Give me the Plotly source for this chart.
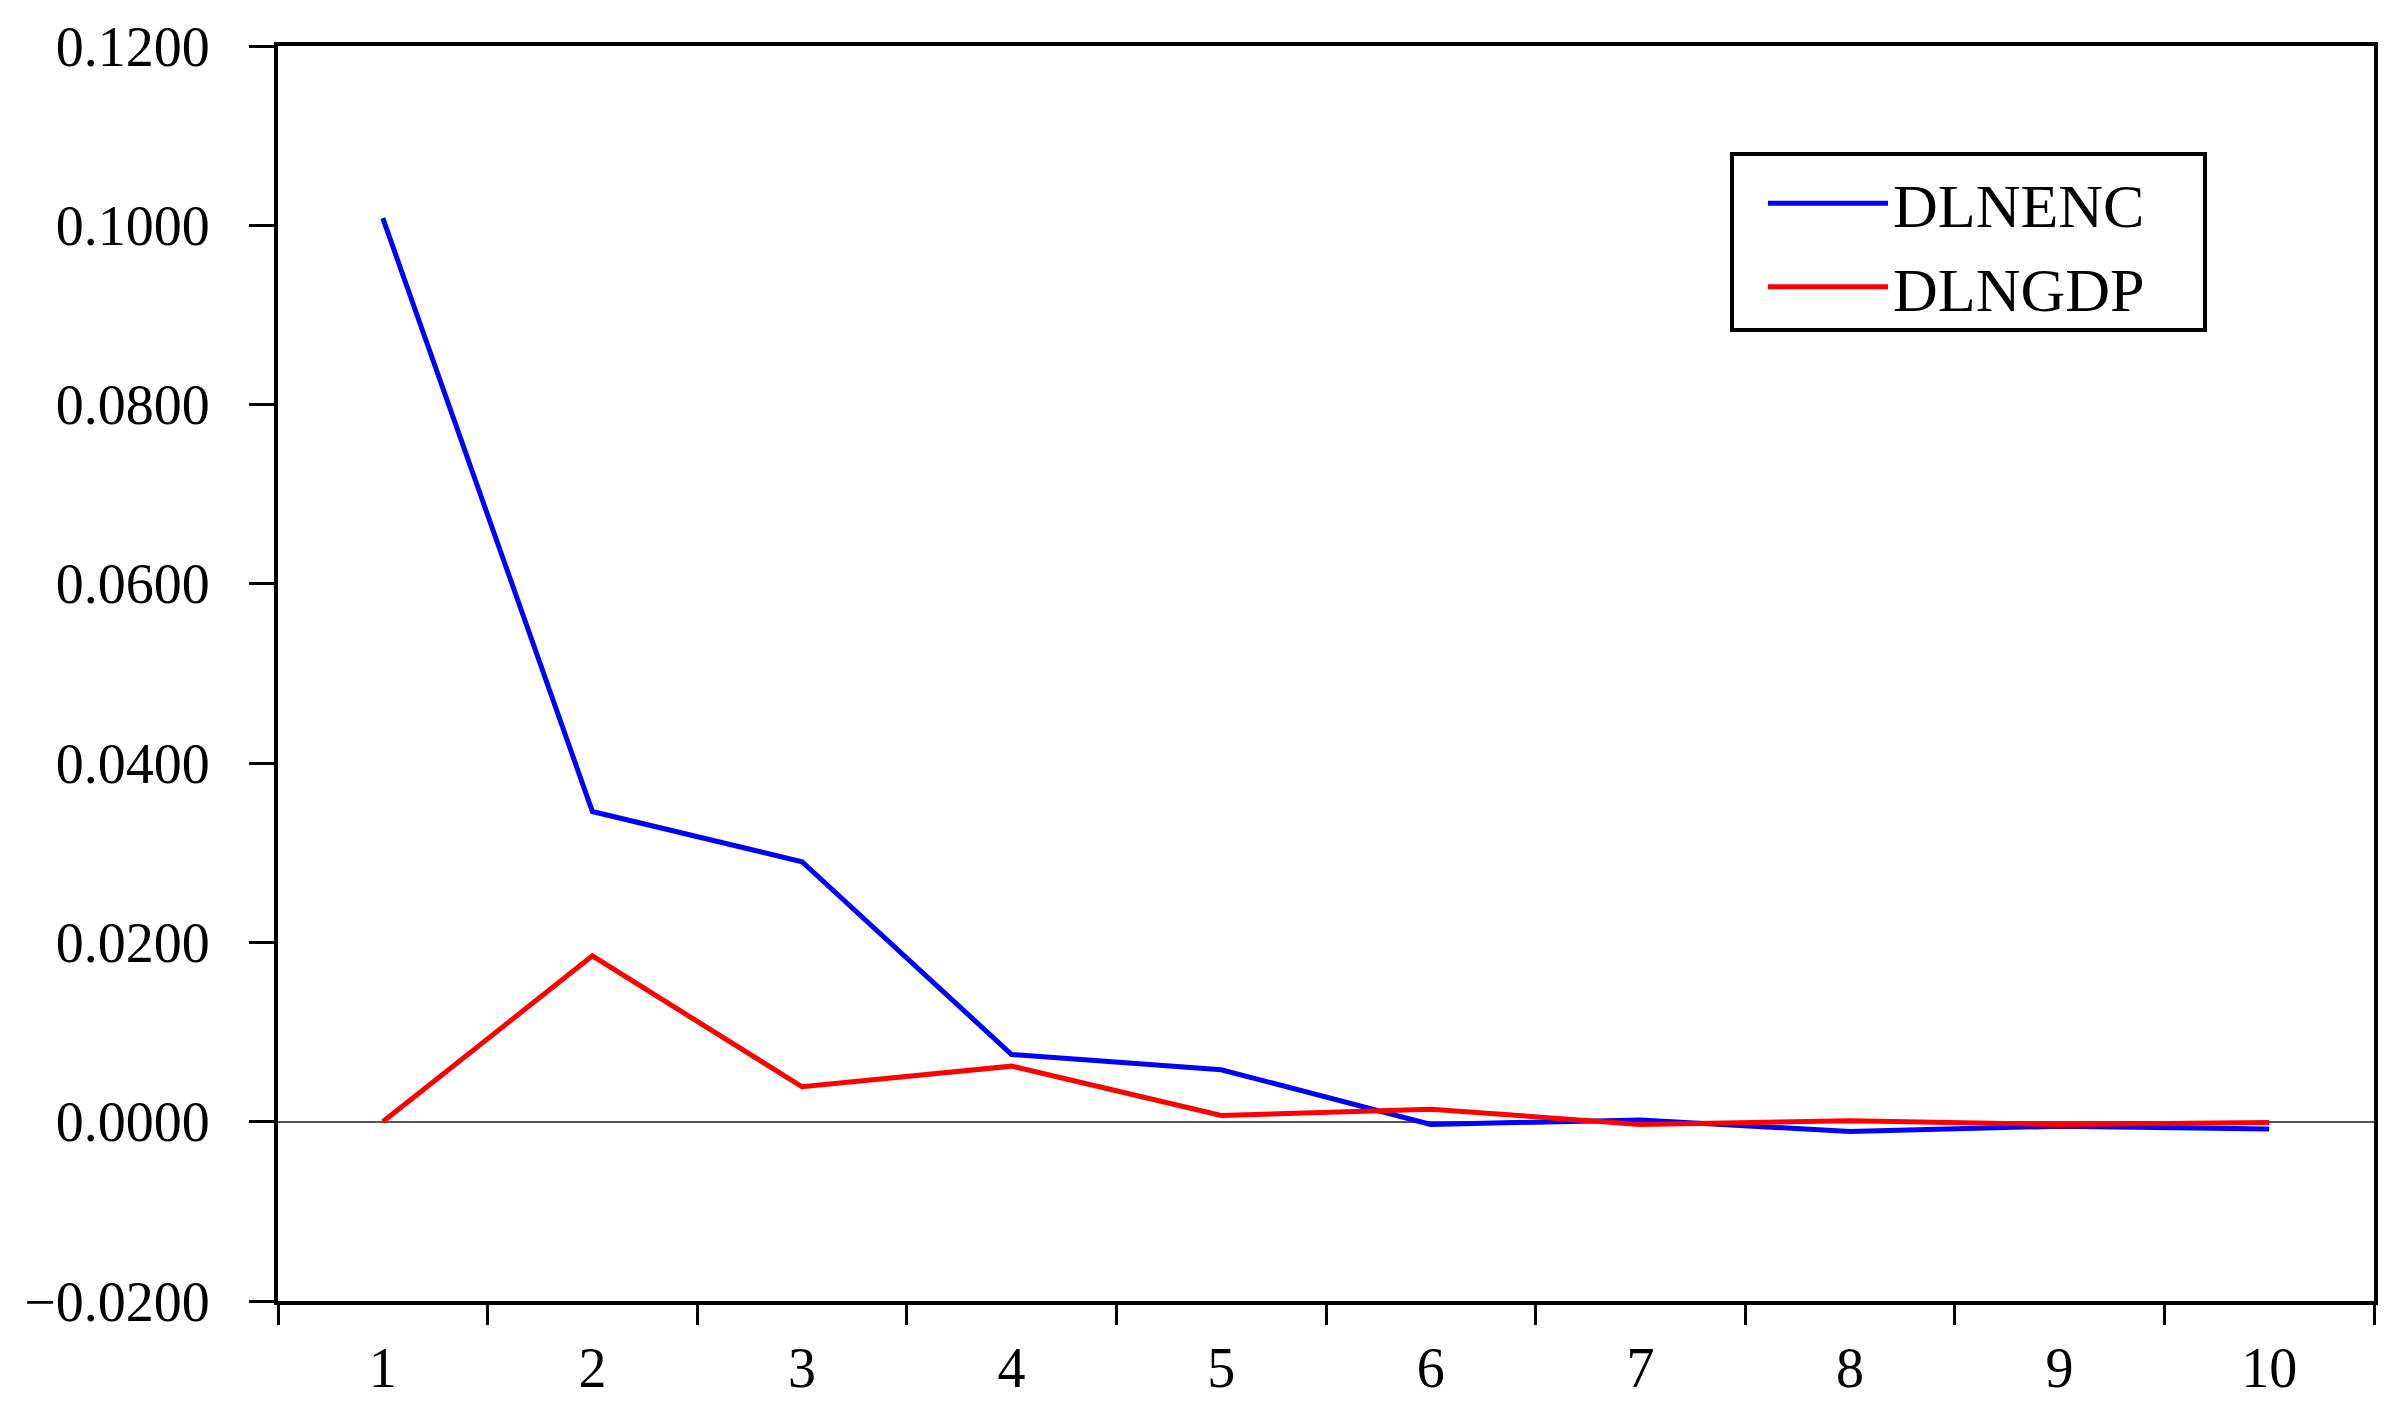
import plotly.graph_objects as go

periods = ["1", "2", "3", "4", "5", "6", "7", "8", "9", "10"]
dlnenc = [0.1008, 0.0346, 0.0290, 0.0075, 0.0058, -0.0003, 0.0002, -0.0011, -0.0005, -0.0008]
dlngdp = [0.0000, 0.0185, 0.0039, 0.0062, 0.0007, 0.0014, -0.0003, 0.0001, -0.0003, -0.0001]
y_ticks = [-0.02, 0.0, 0.02, 0.04, 0.06, 0.08, 0.10, 0.12]

FONT = "Liberation Serif"

# page body has an 8px margin, so plot-area offsets are compensated
L, T, R, B = 270, 38, 42, 129
PW = 2408 - L - R
PH = 1422 - T - B

fig = go.Figure()
fig.add_trace(go.Scatter(x=periods, y=dlnenc, mode="lines", name="DLNENC",
                         line=dict(color="#0000FF", width=5)))
fig.add_trace(go.Scatter(x=periods, y=dlngdp, mode="lines", name="DLNGDP",
                         line=dict(color="#FF0000", width=5)))

fig.update_layout(
    width=2408, height=1422,
    margin=dict(l=L, r=R, t=T, b=B),
    paper_bgcolor="white", plot_bgcolor="white",
    font=dict(family=FONT, size=56, color="black"),
    showlegend=True,
    legend=dict(
        x=0.7085, y=0.912, xanchor="left", yanchor="top",
        borderwidth=0, bgcolor="rgba(0,0,0,0)",
        font=dict(family=FONT, size=62, color="black"),
        itemwidth=120, tracegroupgap=0,
    ),
    shapes=[dict(type="rect", xref="paper", yref="paper",
                 x0=(1732 - 278) / PW, x1=(2205 - 278) / PW,
                 y0=(1301 - 330) / PH, y1=(1301 - 154) / PH,
                 line=dict(color="black", width=4), fillcolor="rgba(0,0,0,0)",
                 layer="above")],
)
fig.update_xaxes(
    type="category", tickson="boundaries", range=[-0.5, 9.5], automargin=False,
    showline=True, mirror=True, linecolor="black", linewidth=4,
    ticks="outside", ticklen=20, tickwidth=3, tickcolor="black",
    showgrid=False, zeroline=False,
    tickfont=dict(family=FONT, size=56, color="black"),
    ticklabelstandoff=15,
)
fig.update_yaxes(
    range=[-0.02, 0.12], tickmode="array", tickvals=y_ticks, automargin=False,
    tickformat=".4f",
    showline=True, mirror=True, linecolor="black", linewidth=4,
    ticks="outside", ticklen=25, tickwidth=3, tickcolor="black",
    showgrid=False, zeroline=True, zerolinecolor="#555555", zerolinewidth=1.5,
    tickfont=dict(family=FONT, size=56, color="black"),
    ticklabelstandoff=28,
)

fig.write_html("out.html")
